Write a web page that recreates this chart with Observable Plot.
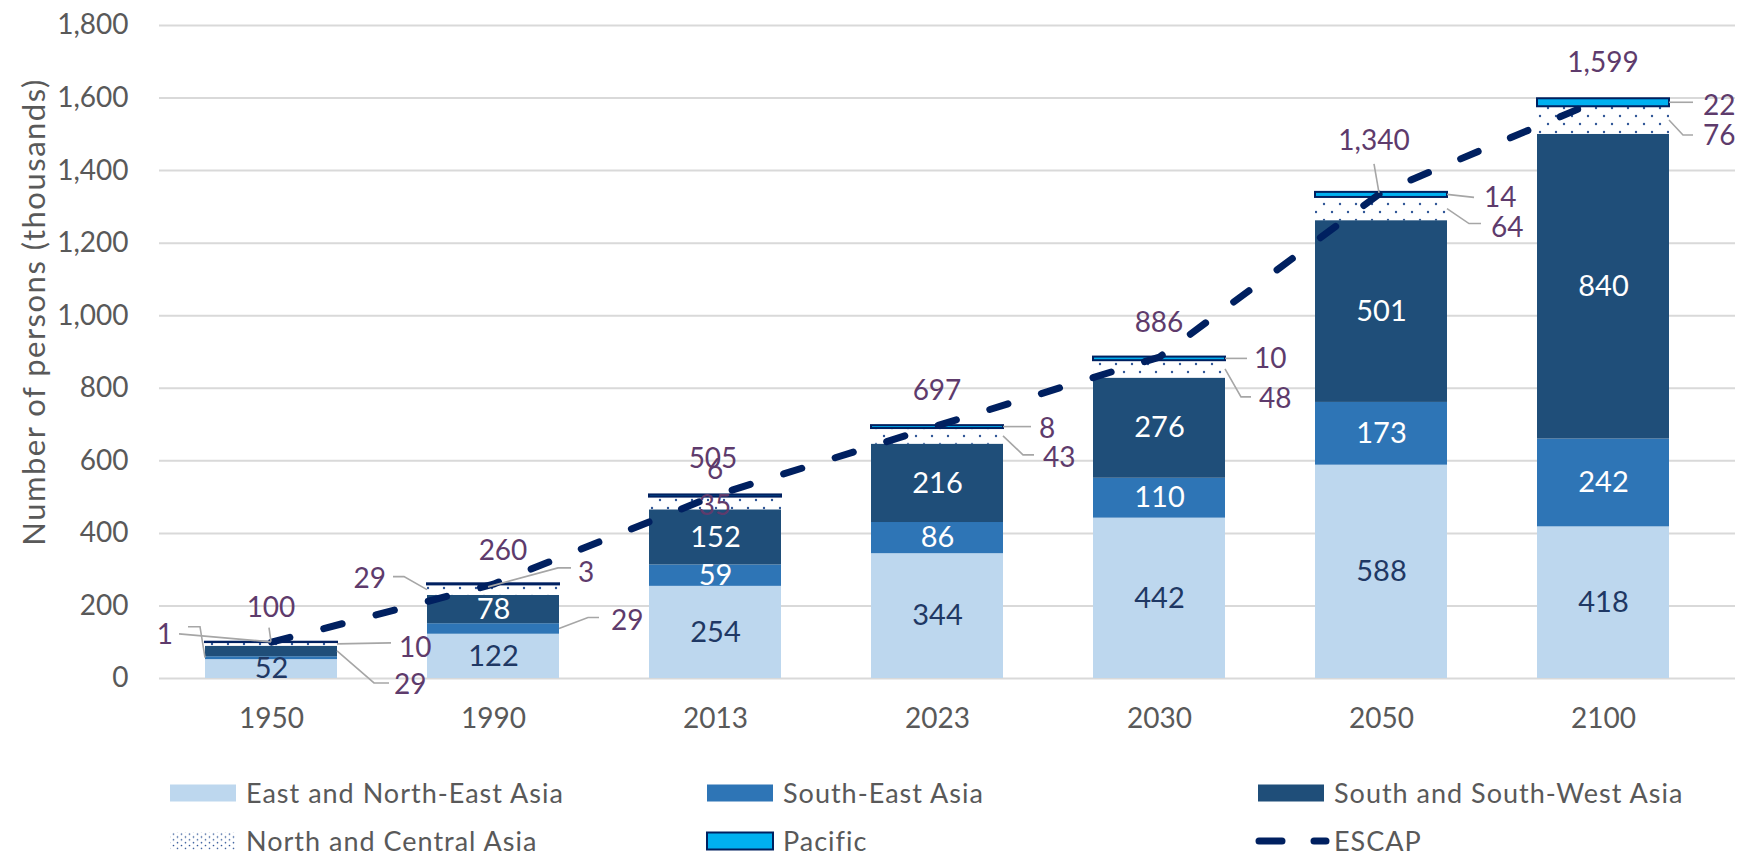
<!DOCTYPE html>
<html><head><meta charset="utf-8">
<script src="https://cdn.jsdelivr.net/npm/d3@7"></script>
<script src="https://cdn.jsdelivr.net/npm/@observablehq/plot@0.6"></script>
<style>
html,body{margin:0;padding:0;background:#fff;}
#chart{position:relative;width:1739px;height:853px;font-family:Lato,sans-serif;}
#chart svg{display:block;}
</style></head><body><div id="chart"></div>
<script>
// ---------- data ----------
const years = ["1950","1990","2013","2023","2030","2050","2100"];
const seriesNames = ["East and North-East Asia","South-East Asia","South and South-West Asia","North and Central Asia","Pacific"];
const eastNorthEast = [52,122,254,344,442,588,418];
const southEast = [8,29,59,86,110,173,242];
const southSouthWest = [29,78,152,216,276,501,840];
const northCentral = [10,29,35,43,48,64,76];
const pacific = [1,3,6,8,10,14,22];
const escapTotal = [100,260,505,697,886,1340,1599];
const yTicks = [0,200,400,600,800,1000,1200,1400,1600,1800];
const yTitle = "Number of persons (thousands)";
const lineName = "ESCAP";

// ---------- styles ----------
const seriesColors = ["#BDD7EE","#2E75B6","#1F4E79","url(#dotsBar)","#00B0F0"];
const navy = "#002060", labelPurple = "#5E3B6C", gray = "#595959";

// ---------- build tables ----------
const seriesValues = [eastNorthEast, southEast, southSouthWest, northCentral, pacific];
const rows = [];
years.forEach((yr, i) => {
  let acc = 0;
  seriesNames.forEach((s, k) => {
    const v = seriesValues[k][i];
    rows.push({year: yr, series: s, value: v, y1: acc, y2: acc + v, mid: acc + v / 2});
    acc += v;
  });
});
const totals = years.map((yr, i) => ({year: yr, value: escapTotal[i]}));

// labels drawn inside segments
const insideNavy = rows.filter(d => d.series === seriesNames[0]);
const insideWhite = rows.filter(d => (d.series === seriesNames[1] || d.series === seriesNames[2]) && d.value >= 55);

// outside labels: layout offsets (pixels) relative to the anchor point
const fmt = d3.format(",");
const layout = [
  {year:"1950", key:"Pacific", at:"C", tx:-98, ty:-8, ta:"end", path:[[-92,-8],[0,0]]},
  {year:"1950", key:"South-East Asia", at:"L", hide:true, path:[[-17,-31],[-5,-31],[0,0]]},
  {year:"1950", key:"total", at:"C", tx:0, ty:-35, ta:"middle", path:[[-2,-14],[0,0]]},
  {year:"1950", key:"North and Central Asia", at:"R", tx:62, ty:3, path:[[0,0],[54,-1]]},
  {year:"1950", key:"South and South-West Asia", at:"R", tx:57, ty:33, path:[[0,0],[37,32],[52,32]]},
  {year:"1990", key:"South-East Asia", at:"R", tx:52, ty:-9, path:[[0,0],[29,-11],[40,-11]]},
  {year:"1990", key:"North and Central Asia", at:"L", tx:-41, ty:-12, ta:"end", path:[[0,0],[-23,-13],[-34,-13]]},
  {year:"1990", key:"Pacific", at:"C", tx:85, ty:-12, path:[[-5,3],[65,-16],[78,-16]]},
  {year:"1990", key:"total", at:"C", tx:10, ty:-34, ta:"middle"},
  {year:"2013", key:"total", at:"C", tx:-2, ty:-37, ta:"middle"},
  {year:"2013", key:"Pacific", at:"C", tx:0, ty:-27, ta:"middle"},
  {year:"2013", key:"North and Central Asia", at:"C", tx:0, ty:2, ta:"middle"},
  {year:"2023", key:"total", at:"C", tx:0, ty:-35, ta:"middle"},
  {year:"2023", key:"Pacific", at:"R", tx:36, ty:1, path:[[0,0],[28,0]]},
  {year:"2023", key:"North and Central Asia", at:"R", tx:40, ty:21, path:[[0,0],[20,19],[31,19]]},
  {year:"2030", key:"total", at:"C", tx:0, ty:-35, ta:"middle"},
  {year:"2030", key:"Pacific", at:"R", tx:29, ty:0, path:[[0,0],[22,0]]},
  {year:"2030", key:"North and Central Asia", at:"R", tx:34, ty:29, path:[[0,0],[16,28],[26,28]]},
  {year:"2050", key:"total", at:"C", tx:-7, ty:-52, ta:"middle", path:[[-7,-28],[-2,1]]},
  {year:"2050", key:"Pacific", at:"R", tx:37, ty:3, path:[[0,0],[27,3]]},
  {year:"2050", key:"North and Central Asia", at:"R", tx:44, ty:18, path:[[0,0],[22,15],[34,15]]},
  {year:"2100", key:"total", at:"C", tx:0, ty:-36, ta:"middle"},
  {year:"2100", key:"Pacific", at:"R", tx:34, ty:3, path:[[0,0],[24,0]]},
  {year:"2100", key:"North and Central Asia", at:"R", tx:34, ty:15, path:[[0,0],[14,15],[24,15]]}
];

// ---------- plot ----------
const plot = Plot.plot({
  width: 1739, height: 750,
  marginLeft: 159, marginRight: 4, marginTop: 25, marginBottom: 72,
  style: {fontFamily: "Lato, sans-serif", fontSize: "28px", color: gray, background: "#fff", overflow: "visible"},
  x: {domain: years, paddingInner: 0.406, paddingOuter: 0.2026, insetRight: 21, label: null},
  y: {domain: [0, 1800], label: null},
  color: {domain: seriesNames, range: seriesColors},
  marks: [
    Plot.ruleY(yTicks, {stroke: "#D9D9D9", strokeWidth: 2}),
    Plot.axisY({ticks: yTicks, tickSize: 0, tickPadding: 31, tickFormat: d3.format(","), label: null, fill: gray}),
    Plot.axisX({tickSize: 0, tickPadding: 30, label: null, fill: gray}),
    Plot.text([yTitle], {frameAnchor: "left", textAnchor: "middle", lineAnchor: "middle", rotate: -90, dx: -124, dy: -40, fill: gray, fontSize: 31}),
    Plot.barY(rows.filter(d => d.series !== "Pacific"), {x: "year", y1: "y1", y2: "y2", fill: "series"}),
    Plot.barY(rows.filter(d => d.series === "Pacific"), {x: "year", y1: "y1", y2: "y2", fill: "series", stroke: navy, strokeWidth: 2}),
    Plot.lineY(totals, {x: "year", y: "value", stroke: navy, strokeWidth: 7, strokeDasharray: "19,35", strokeLinecap: "round"}),
    Plot.text(insideNavy, {x: "year", y: "mid", text: d => fmt(d.value), fill: "#1F3864", fontSize: 29}),
    Plot.text(insideWhite, {x: "year", y: "mid", text: d => fmt(d.value), fill: "#ffffff", fontSize: 29})
  ]
});

// patterns
const svg = d3.select(plot);
svg.selectAll("text").filter(function() { return this.textContent === yTitle; }).attr("letter-spacing", "1.5px");
const defs = svg.insert("defs", ":first-child");
const pat = defs.append("pattern").attr("id", "dotsBar").attr("patternUnits", "userSpaceOnUse")
  .attr("width", 16).attr("height", 16);
pat.append("rect").attr("width", 16).attr("height", 16).attr("fill", "#fff");
pat.append("circle").attr("cx", 4).attr("cy", 4).attr("r", 1.2).attr("fill", "#2F5597");
pat.append("circle").attr("cx", 12).attr("cy", 12).attr("r", 1.2).attr("fill", "#2F5597");

// annotations through the plot's scales
const xs = plot.scale("x"), ys = plot.scale("y");
const bw = xs.bandwidth;
const g = svg.append("g").attr("class", "annotations");
layout.forEach(L => {
  const i = years.indexOf(L.year);
  let v, val;
  if (L.key === "total") { v = escapTotal[i]; val = escapTotal[i]; }
  else { const r = rows.find(d => d.year === L.year && d.series === L.key); v = r.mid; val = r.value; }
  const cx = xs.apply(L.year) + bw / 2;
  const ax = L.at === "L" ? cx - bw / 2 : L.at === "R" ? cx + bw / 2 : cx;
  const ay = ys.apply(v);
  if (L.path) {
    g.append("path")
      .attr("d", d3.line()(L.path.map(([dx, dy]) => [ax + dx, ay + dy])))
      .attr("fill", "none").attr("stroke", "#A6A6A6").attr("stroke-width", 1.6);
  }
  if (!L.hide) {
    g.append("text")
      .attr("x", ax + L.tx).attr("y", ay + L.ty).attr("dy", "0.36em")
      .attr("text-anchor", L.ta || "start")
      .attr("fill", labelPurple).attr("font-size", 28)
      .text(fmt(val));
  }
});

document.getElementById("chart").appendChild(plot);

// ---------- legend (below the chart) ----------
const legend = d3.select("#chart").append("svg").attr("width", 1739).attr("height", 103)
  .style("font-family", "Lato, sans-serif");
const ldefs = legend.append("defs");
const lp = ldefs.append("pattern").attr("id", "dotsLegend").attr("patternUnits", "userSpaceOnUse")
  .attr("width", 8).attr("height", 11.4);
lp.append("rect").attr("width", 8).attr("height", 11.4).attr("fill", "#fff");
[[1.5,1.5],[1.5,7.2],[5.5,4.3],[5.5,10]].forEach(([a,b]) => lp.append("circle").attr("cx", a).attr("cy", b).attr("r", 0.8).attr("fill", "#2F5597"));

const legendItems = [
  {name: seriesNames[0], kind: "rect", fill: seriesColors[0]},
  {name: seriesNames[1], kind: "rect", fill: seriesColors[1]},
  {name: seriesNames[2], kind: "rect", fill: seriesColors[2]},
  {name: seriesNames[3], kind: "rect", fill: "url(#dotsLegend)"},
  {name: seriesNames[4], kind: "rect", fill: seriesColors[4], stroke: navy},
  {name: lineName, kind: "line"}
];
const colX = [170, 707, 1258], rowY = [43, 91];
legendItems.forEach((it, k) => {
  const x = colX[k % 3], y = rowY[Math.floor(k / 3)];
  if (it.kind === "rect") {
    legend.append("rect").attr("x", x).attr("y", y - 8.5).attr("width", 66).attr("height", 17)
      .attr("fill", it.fill).attr("stroke", it.stroke || "none").attr("stroke-width", it.stroke ? 2 : 0);
  } else {
    legend.append("line").attr("x1", x + 1).attr("x2", x + 68).attr("y1", y).attr("y2", y)
      .attr("stroke", navy).attr("stroke-width", 7).attr("stroke-linecap", "round").attr("stroke-dasharray", "23,32");
  }
  legend.append("text").attr("x", x + 76).attr("y", y).attr("dy", "0.36em")
    .attr("fill", gray).attr("font-size", 27).attr("letter-spacing", "1px").text(it.name);
});
</script></body></html>
